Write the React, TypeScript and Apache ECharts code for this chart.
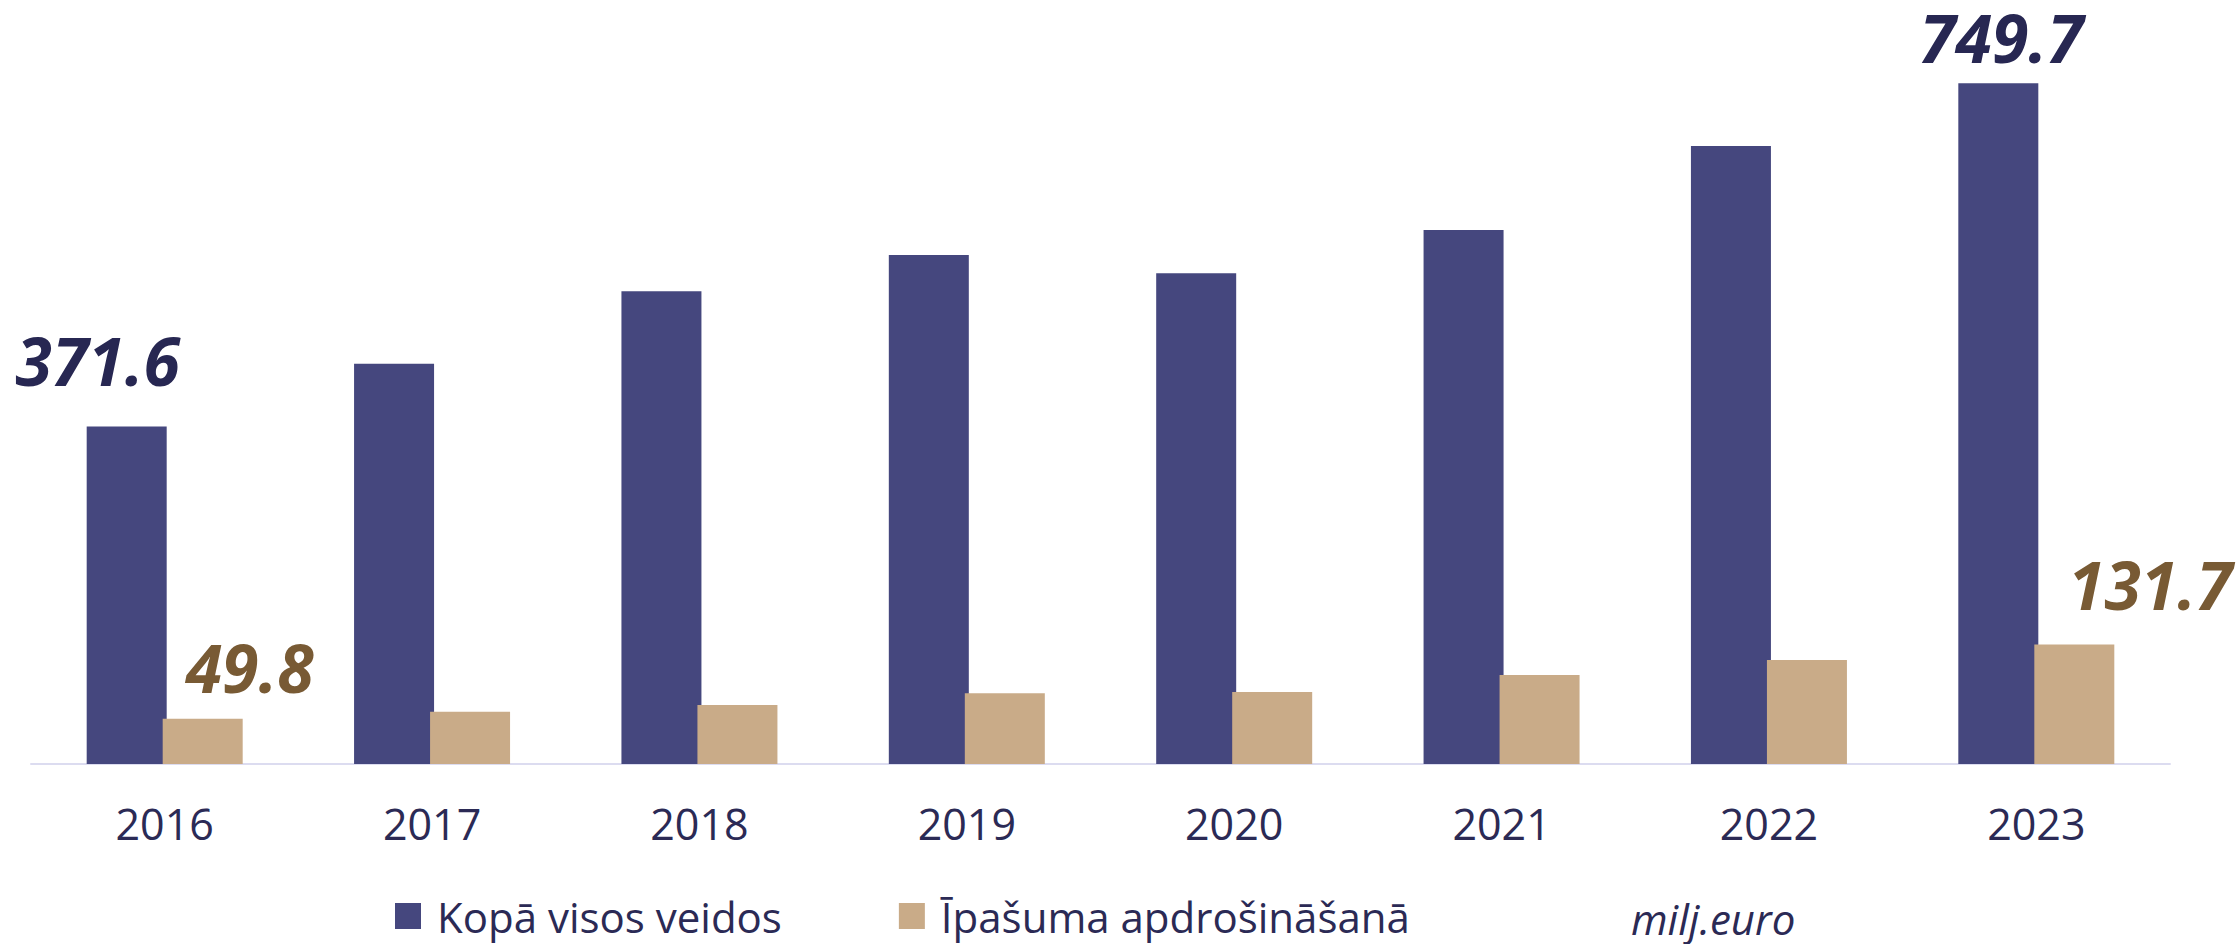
import React, { useEffect, useRef } from "react";
import * as echarts from "echarts";

const years = ["2016", "2017", "2018", "2019", "2020", "2021", "2022", "2023"];
const totalAll = [371.6, 440.9, 520.6, 560.6, 540.4, 588.1, 680.6, 749.7];
const propertyIns = [49.8, 57.6, 65.0, 77.9, 79.3, 98.0, 114.5, 131.7];
const seriesNames = ["Kopā visos veidos", "Īpašuma apdrošināšanā"];
const unitLabel = "milj.euro";

const BLUE = "#45477E";
const TAN = "#C9AB88";
const NAVY_TEXT = "#272752";
const BROWN_TEXT = "#785A34";
const AXIS_TEXT = "#2B2A55";
const FONT = "Open Sans";

export default function App() {
  const ref = useRef<HTMLDivElement>(null);

  useEffect(() => {
    document.body.style.margin = "0";
    if (!ref.current) return;
    const chart = echarts.init(ref.current, undefined, { renderer: "svg" });

    const edgeLabel = (color: string, offset: number[]) => ({
      show: true,
      position: "top",
      distance: 0,
      offset,
      color,
      fontFamily: FONT,
      fontSize: 66,
      fontWeight: "bold",
      fontStyle: "italic",
    });

    const blueData = totalAll.map((v, i) => {
      if (i === 0) return { value: v, label: edgeLabel(NAVY_TEXT, [-29, -34]) };
      if (i === totalAll.length - 1) return { value: v, label: edgeLabel(NAVY_TEXT, [3, -13]) };
      return v;
    });
    const tanData = propertyIns.map((v, i) => {
      if (i === 0) return { value: v, label: edgeLabel(BROWN_TEXT, [47, -19]) };
      if (i === propertyIns.length - 1) return { value: v, label: edgeLabel(BROWN_TEXT, [76, -27]) };
      return v;
    });

    chart.setOption({
      animation: false,
      backgroundColor: "#ffffff",
      grid: { left: 31, right: 67, top: 37.6, bottom: 180, containLabel: false },
      xAxis: {
        type: "category",
        data: years,
        axisLine: { show: true, lineStyle: { color: "#DCDCF0", width: 2 } },
        axisTick: { show: false },
        axisLabel: { color: AXIS_TEXT, fontFamily: FONT, fontSize: 43, margin: 38 },
      },
      yAxis: {
        type: "value",
        min: 0,
        max: 800,
        show: false,
        splitLine: { show: false },
      },
      legend: {
        left: 395,
        top: 895,
        padding: 0,
        itemWidth: 26,
        itemHeight: 26,
        itemGap: 117,
        icon: "rect",
        textStyle: { color: AXIS_TEXT, fontFamily: FONT, fontSize: 42, padding: [0, 0, 0, 11] },
        data: seriesNames,
      },
      graphic: [
        {
          type: "text",
          left: 1631,
          top: 897,
          style: {
            text: unitLabel,
            fill: AXIS_TEXT,
            font: `italic 42px "${FONT}"`,
          },
        },
      ],
      series: [
        {
          name: seriesNames[0],
          type: "bar",
          data: blueData,
          barWidth: 80,
          barGap: "-5%",
          itemStyle: { color: BLUE },
        },
        {
          name: seriesNames[1],
          type: "bar",
          data: tanData,
          barWidth: 80,
          barGap: "-5%",
          itemStyle: { color: TAN },
        },
      ],
    });

    return () => chart.dispose();
  }, []);

  return <div ref={ref} style={{ width: 2237, height: 944 }} />;
}
